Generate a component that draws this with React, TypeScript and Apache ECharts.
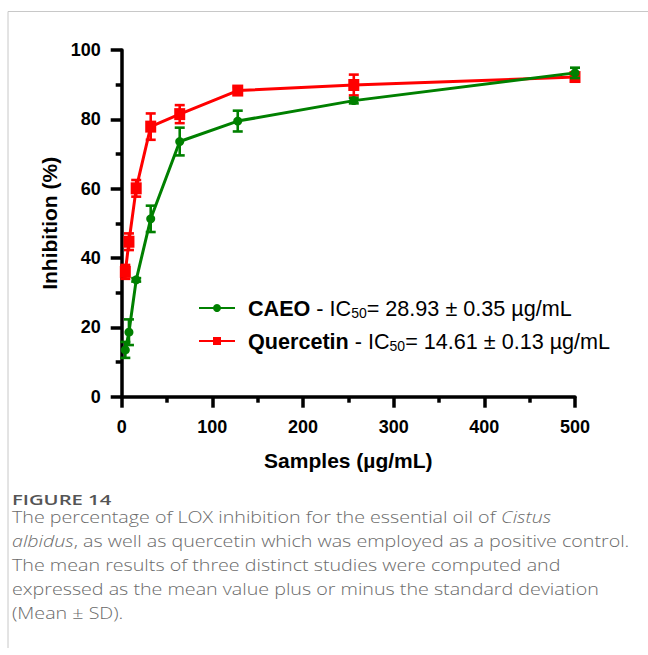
import React, { useEffect, useRef } from "react";
import * as echarts from "echarts";

const concentrations = [4, 8, 16, 32, 64, 128, 256, 500];
const caeoMean = [13.5, 18.6, 33.7, 51.3, 73.6, 79.5, 85.4, 93.4];
const caeoSd = [2.3, 3.7, 0.5, 3.8, 4.0, 3.0, 0.8, 1.5];
const quercetinMean = [36.0, 44.7, 60.1, 77.9, 81.5, 88.3, 89.9, 92.2];
const quercetinSd = [2.0, 2.4, 2.4, 3.8, 2.6, 1.0, 3.0, 1.0];
const seriesNames = ["CAEO", "Quercetin"];
const ic50Labels = ["28.93 ± 0.35 µg/mL", "14.61 ± 0.13 µg/mL"];
const yTicks = [0, 20, 40, 60, 80, 100];
const xTicks = [0, 100, 200, 300, 400, 500];

const GREEN = "#008000";
const RED = "#ff0000";
const FONT = "Liberation Sans, Arial, Helvetica, sans-serif";
const CAP_FONT = "Open Sans, Noto Sans, sans-serif";

function errorSeries(name: string, means: number[], sds: number[], color: string, z: number) {
  return {
    type: "custom",
    name: name + "_err",
    z,
    silent: true,
    data: concentrations.map((c, i) => [c, means[i] - sds[i], means[i] + sds[i]]),
    encode: { x: 0, y: [1, 2] },
    renderItem: (params: any, api: any) => {
      const x = api.value(0);
      const pLo = api.coord([x, api.value(1)]);
      const pHi = api.coord([x, api.value(2)]);
      const hw = 5;
      const style = { stroke: color, lineWidth: 2.6 };
      return {
        type: "group",
        children: [
          { type: "line", shape: { x1: pLo[0], y1: pLo[1], x2: pHi[0], y2: pHi[1] }, style },
          { type: "line", shape: { x1: pLo[0] - hw, y1: pLo[1], x2: pLo[0] + hw, y2: pLo[1] }, style },
          { type: "line", shape: { x1: pHi[0] - hw, y1: pHi[1], x2: pHi[0] + hw, y2: pHi[1] }, style },
        ],
      };
    },
  };
}

export default function App() {
  const ref = useRef<HTMLDivElement>(null);
  useEffect(() => {
    if (!ref.current) return;
    const chart = echarts.init(ref.current, null, { renderer: "svg" });
    const captionText =
      "The percentage of LOX inhibition for the essential oil of {i|Cistus}\n" +
      "{i|albidus}, as well as quercetin which was employed as a positive control.\n" +
      "The mean results of three distinct studies were computed and\n" +
      "expressed as the mean value plus or minus the standard deviation\n" +
      "(Mean {u|±} SD).";
    const capBase = { fontFamily: CAP_FONT, fontSize: 16, fontWeight: 300, lineHeight: 24, fill: "#6b6b6b" };
    chart.setOption({
      animation: false,
      backgroundColor: "#ffffff",
      grid: { left: 121.7, right: 73, top: 50, bottom: 258.3, containLabel: false },
      xAxis: {
        type: "value",
        min: 0,
        max: 500,
        interval: 100,
        name: "Samples (µg/mL)",
        nameLocation: "middle",
        nameGap: 53,
        nameTextStyle: { fontFamily: FONT, fontWeight: "bold", fontSize: 21, color: "#000" },
        axisLine: { show: true, onZero: false, lineStyle: { color: "#000", width: 3.5 } },
        axisTick: { show: true, length: 11, lineStyle: { color: "#000", width: 3.5 } },
        minorTick: { show: true, splitNumber: 2, length: 6, lineStyle: { color: "#000", width: 3.5 } },
        splitLine: { show: false },
        axisLabel: {
          margin: 21,
          fontFamily: FONT,
          fontWeight: "bold",
          fontSize: 18,
          color: "#000",
          formatter: (v: number) => (xTicks.includes(v) ? String(v) : ""),
        },
      },
      yAxis: {
        type: "value",
        min: 0,
        max: 100,
        interval: 20,
        name: "Inhibition (%)",
        nameLocation: "middle",
        nameGap: 61,
        nameTextStyle: { fontFamily: FONT, fontWeight: "bold", fontSize: 21, color: "#000" },
        axisLine: { show: true, onZero: false, lineStyle: { color: "#000", width: 3.5 } },
        axisTick: { show: true, length: 11, lineStyle: { color: "#000", width: 3.5 } },
        minorTick: { show: true, splitNumber: 2, length: 6, lineStyle: { color: "#000", width: 3.5 } },
        splitLine: { show: false },
        axisLabel: {
          margin: 21,
          fontFamily: FONT,
          fontWeight: "bold",
          fontSize: 18,
          color: "#000",
          formatter: (v: number) => (yTicks.includes(v) ? String(v) : ""),
        },
      },
      legend: {
        orient: "vertical",
        left: 193,
        top: 291,
        itemGap: 9,
        itemWidth: 36,
        itemHeight: 10,
        data: seriesNames,
        formatter: (name: string) => {
          const i = seriesNames.indexOf(name);
          return "{b|" + name + "} - IC{s|50}= " + ic50Labels[i];
        },
        textStyle: {
          fontFamily: FONT,
          fontSize: 21.6,
          color: "#000",
          lineHeight: 22,
          padding: [0, 0, 0, 8],
          rich: {
            b: { fontFamily: FONT, fontSize: 21.6, fontWeight: "bold", color: "#000", lineHeight: 22 },
            s: { fontFamily: FONT, fontSize: 14, color: "#000", padding: [10, 0, 0, 0], lineHeight: 22 },
          },
        },
      },
      graphic: [
        { type: "line", silent: true, shape: { x1: 8, y1: 11.5, x2: 648, y2: 11.5 }, style: { stroke: "#c8c8c8", lineWidth: 1 } },
        { type: "line", silent: true, shape: { x1: 8, y1: 11.5, x2: 8, y2: 648 }, style: { stroke: "#c8c8c8", lineWidth: 1 } },
        {
          type: "text",
          x: 12,
          y: 492,
          scaleX: 1.35,
          silent: true,
          style: {
            text: "FIGURE 14",
            x: 0,
            y: 0,
            verticalAlign: "top",
            fontFamily: CAP_FONT,
            fontSize: 15,
            fontWeight: 600,
            fill: "#555555",
          },
        },
        {
          type: "text",
          x: 12,
          y: 505,
          scaleX: 1.23,
          silent: true,
          style: {
            text: captionText,
            x: 0,
            y: 0,
            verticalAlign: "top",
            ...capBase,
            rich: {
              i: { ...capBase, fontStyle: "italic" },
              u: { ...capBase, textDecoration: "underline" },
            },
          },
        },
      ],
      series: [
        errorSeries("Quercetin", quercetinMean, quercetinSd, RED, 2),
        {
          type: "line",
          name: "Quercetin",
          z: 3,
          data: concentrations.map((c, i) => [c, quercetinMean[i]]),
          symbol: "rect",
          symbolSize: [11, 12],
          lineStyle: { color: RED, width: 3 },
          itemStyle: { color: RED },
        },
        errorSeries("CAEO", caeoMean, caeoSd, GREEN, 4),
        {
          type: "line",
          name: "CAEO",
          z: 5,
          data: concentrations.map((c, i) => [c, caeoMean[i]]),
          symbol: "circle",
          symbolSize: 9,
          lineStyle: { color: GREEN, width: 3 },
          itemStyle: { color: GREEN },
        },
      ],
    });
    return () => chart.dispose();
  }, []);
  return (
    <div
      ref={ref}
      style={{ position: "absolute", left: 0, top: 0, width: 648, height: 655 }}
    />
  );
}
